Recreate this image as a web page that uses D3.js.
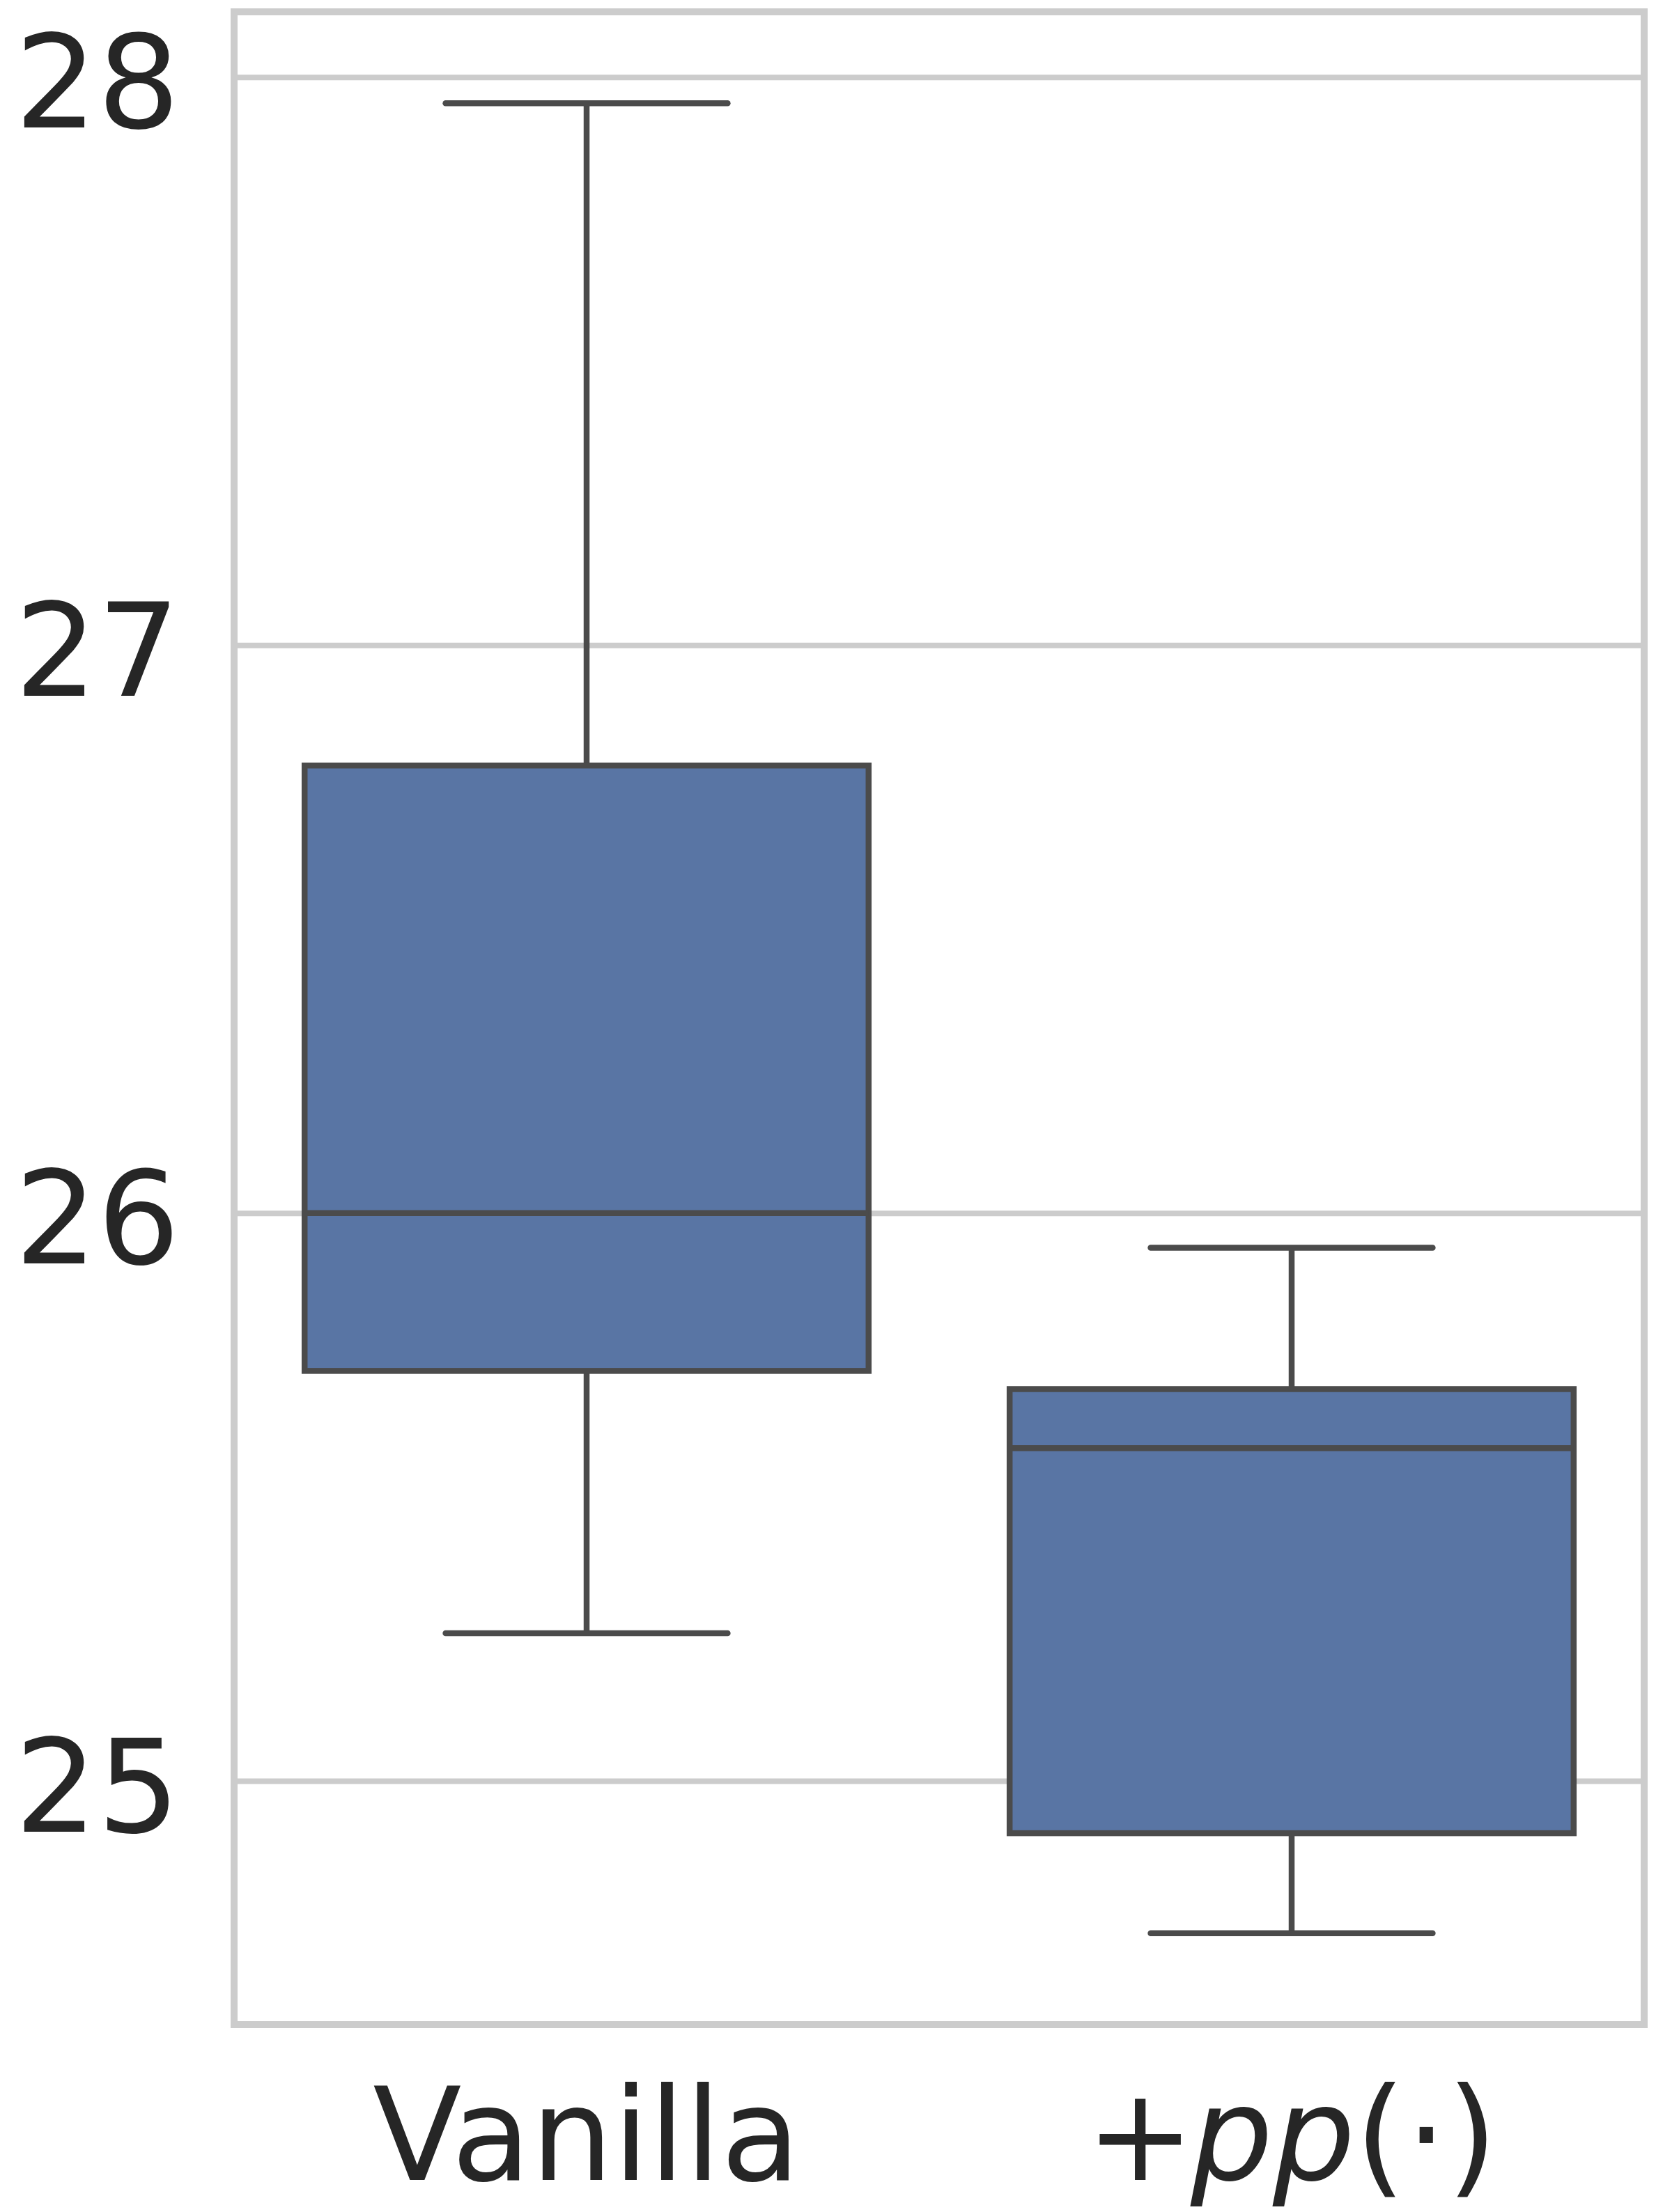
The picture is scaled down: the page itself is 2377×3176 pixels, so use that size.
<!DOCTYPE html>
<html>
<head>
<meta charset="utf-8">
<script src="https://cdn.jsdelivr.net/npm/d3@7"></script>
<style>
	html, body { margin: 0; padding: 0; background: #fff; }
	svg { display: block; font-family: 'DejaVu Sans', sans-serif; }
</style>
</head>
<body>
<svg id="chart"></svg>
<script>
// box statistics
const categories = ['Vanilla', '+pp(·)']
const whiskerLow = [25.26, 24.732]
const q1 = [25.722, 24.908]
const median = [26.0, 25.586]
const q3 = [26.788, 25.690]
const whiskerHigh = [27.954, 25.939]
const yTicks = [25, 26, 27, 28]

const WIDTH = 2377
const HEIGHT = 3176
const MARGINS = {top: 17, right: 17, bottom: 269, left: 336}
const FONT_SIZE = 186
const BOX_FILL = '#5975a4'
const EDGE = '#4b4b4b'
const GRID = '#cccccc'
const TEXT = '#262626'

const boxes = categories.map((name, i) => ({
	name,
	lo: whiskerLow[i],
	q1: q1[i],
	med: median[i],
	q3: q3[i],
	hi: whiskerHigh[i]
}))

const svg = d3.select('#chart')
	.attr('width', WIDTH)
	.attr('height', HEIGHT)

const x0 = MARGINS.left
const x1 = WIDTH - MARGINS.right
const y0 = MARGINS.top
const y1 = HEIGHT - MARGINS.bottom

// matplotlib-like 5% margins around the data
const lo = d3.min(whiskerLow)
const hi = d3.max(whiskerHigh)
const pad = (hi - lo) * 0.05

const x = d3.scaleBand()
	.domain(categories)
	.range([x0, x1])
	.paddingInner(0)
	.paddingOuter(0)

const y = d3.scaleLinear()
	.domain([lo - pad, hi + pad])
	.range([y1, y0])

// Grid lines + y tick labels
const yAxis = d3.axisLeft(y)
	.tickValues(yTicks)
	.tickSize(-(x1 - x0))
	.tickPadding(78)
	.tickFormat(d3.format('d'))

const gy = svg.append('g')
	.attr('transform', `translate(${x0}, 0)`)
	.call(yAxis)
gy.select('.domain').remove()
gy.selectAll('.tick line')
	.attr('stroke', GRID)
	.attr('stroke-width', 8)
gy.selectAll('.tick text')
	.attr('fill', TEXT)
	.attr('font-size', FONT_SIZE)
	.attr('font-family', 'DejaVu Sans')
	.attr('dy', null)
	.attr('y', 72)

// Boxes
const bw = x.bandwidth() * 0.8
const capW = bw / 2
const g = svg.selectAll('g.box')
	.data(boxes)
	.join('g')
	.attr('class', 'box')
	.attr('transform', d => `translate(${x(d.name) + x.bandwidth() / 2}, 0)`)

// whiskers
g.append('line')
	.attr('x1', 0).attr('x2', 0)
	.attr('y1', d => y(d.q3)).attr('y2', d => y(d.hi))
	.attr('stroke', EDGE).attr('stroke-width', 8.5)
g.append('line')
	.attr('x1', 0).attr('x2', 0)
	.attr('y1', d => y(d.q1)).attr('y2', d => y(d.lo))
	.attr('stroke', EDGE).attr('stroke-width', 8.5)

// caps
g.selectAll('line.cap')
	.data(d => [d.lo, d.hi])
	.join('line')
	.attr('class', 'cap')
	.attr('x1', -capW / 2).attr('x2', capW / 2)
	.attr('y1', v => y(v)).attr('y2', v => y(v))
	.attr('stroke', EDGE).attr('stroke-width', 8.5)
	.attr('stroke-linecap', 'round')

g.append('rect')
	.attr('x', -bw / 2)
	.attr('width', bw)
	.attr('y', d => y(d.q3))
	.attr('height', d => y(d.q1) - y(d.q3))
	.attr('fill', BOX_FILL)
	.attr('stroke', EDGE)
	.attr('stroke-width', 8.5)

g.append('line')
	.attr('x1', -bw / 2).attr('x2', bw / 2)
	.attr('y1', d => y(d.med)).attr('y2', d => y(d.med))
	.attr('stroke', EDGE).attr('stroke-width', 8.5)

// Frame (all four spines)
svg.append('rect')
	.attr('x', x0).attr('y', y0)
	.attr('width', x1 - x0).attr('height', y1 - y0)
	.attr('fill', 'none')
	.attr('stroke', GRID)
	.attr('stroke-width', 10)

// x tick labels
const labelY = 3130
svg.append('text')
	.attr('x', x(categories[0]) + x.bandwidth() / 2)
	.attr('y', labelY)
	.attr('text-anchor', 'middle')
	.attr('font-size', FONT_SIZE)
	.attr('fill', TEXT)
	.text(categories[0])

// second label is mathtext: +pp(\cdot)
const t = svg.append('text')
	.attr('x', x(categories[1]) + x.bandwidth() / 2)
	.attr('y', labelY)
	.attr('text-anchor', 'middle')
	.attr('font-size', FONT_SIZE)
	.attr('fill', TEXT)
t.append('tspan').text('+')
t.append('tspan').attr('font-style', 'italic').attr('dx', -FONT_SIZE * 0.03).text('pp')
t.append('tspan').text('(')
t.append('tspan').text('\u22C5')
t.append('tspan').text(')')
</script>
</body>
</html>
